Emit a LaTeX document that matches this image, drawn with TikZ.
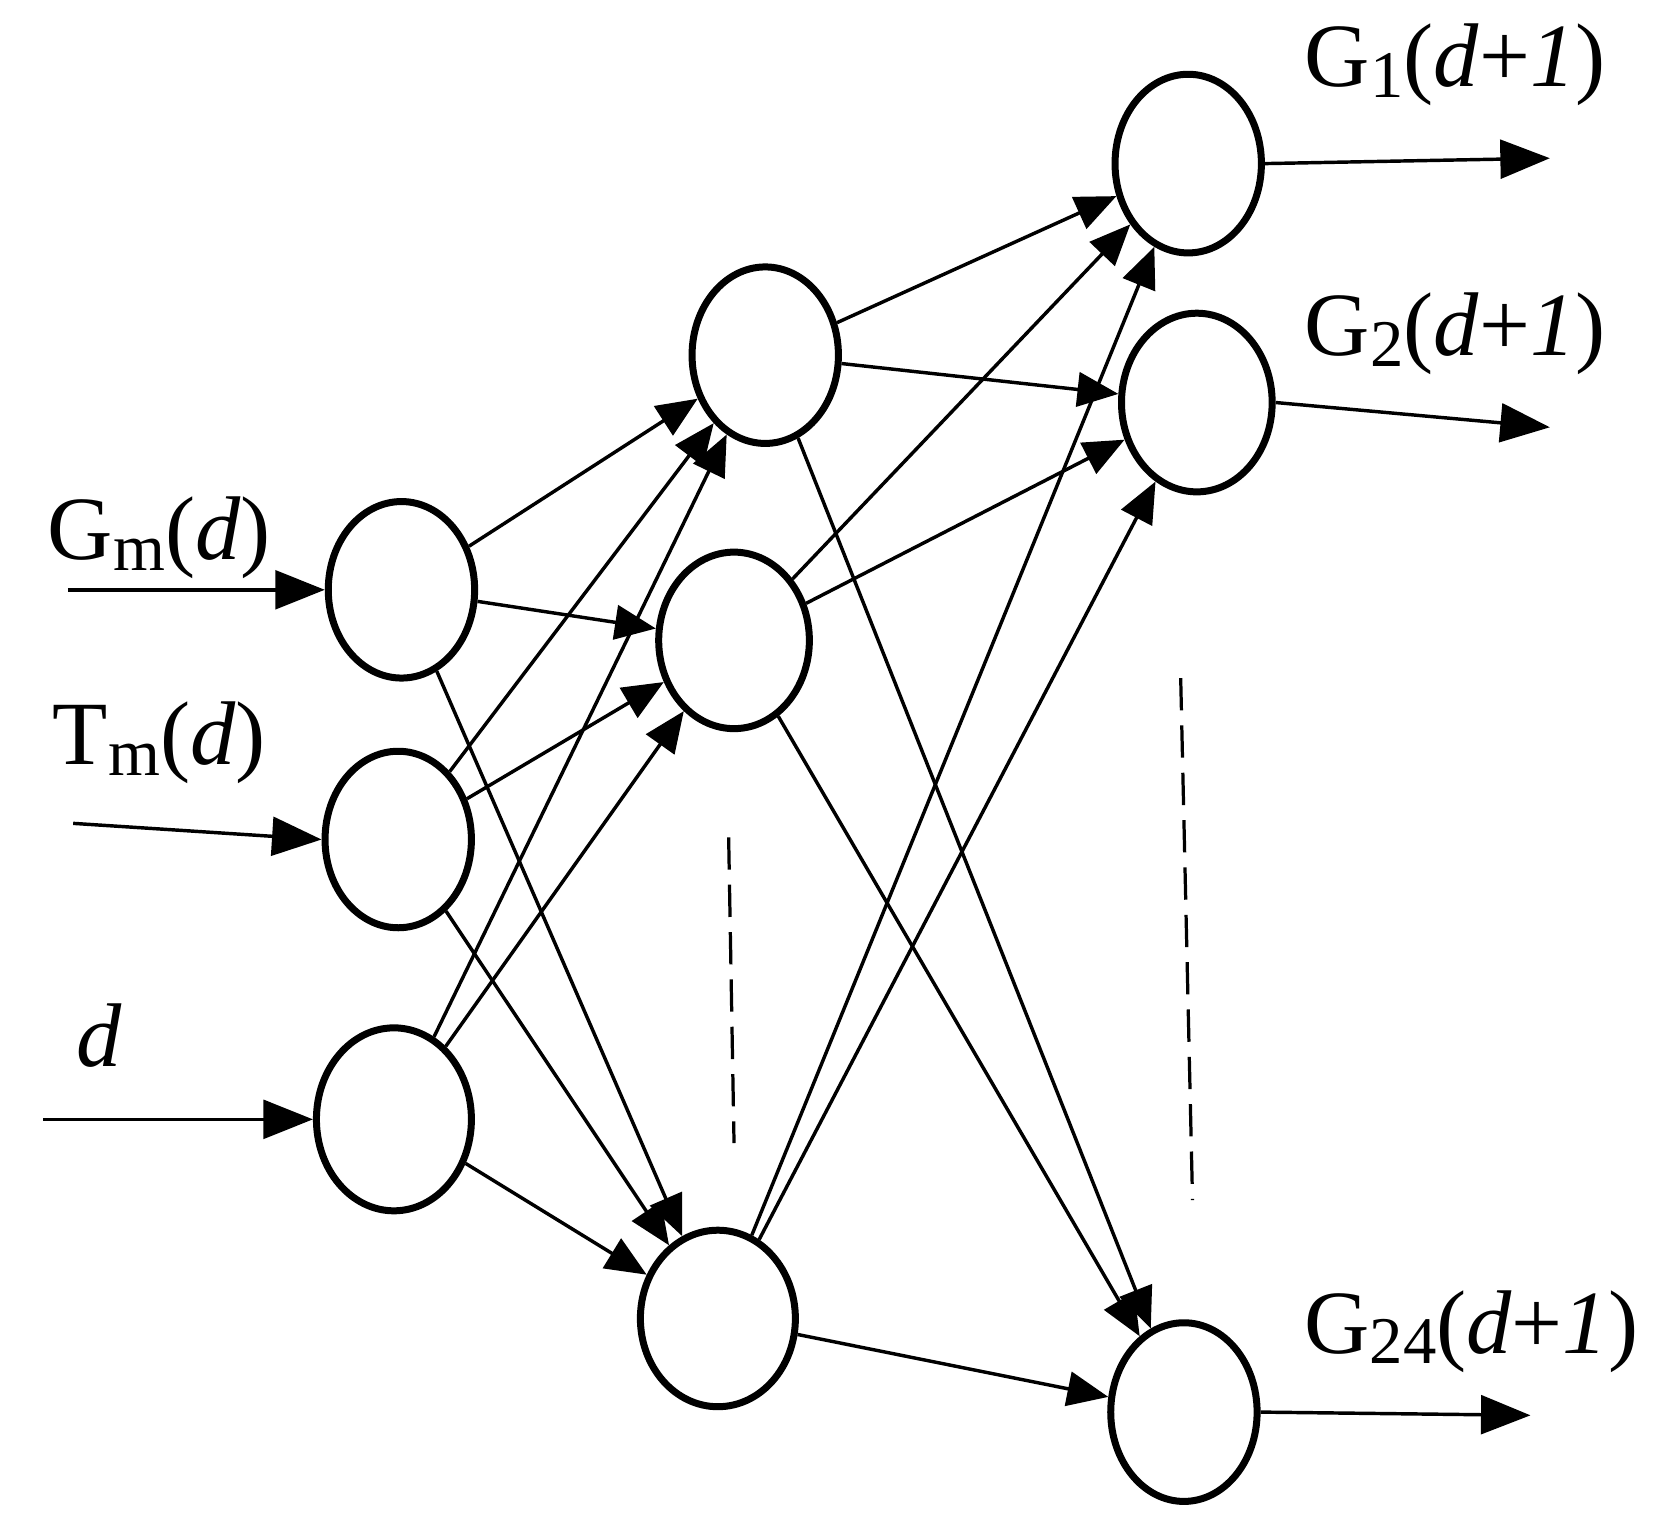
\documentclass[tikz,border=0pt]{standalone}
\usepackage{fontspec}
\setmainfont{Liberation Serif}
\usetikzlibrary{shapes.geometric,arrows.meta}
\newcommand{\lsub}[1]{\raisebox{-0.12em}{\fontsize{62}{70}\selectfont #1}}
\begin{document}
\begin{tikzpicture}[x=1pt,y=-1pt,
  neu/.style={ellipse,draw,line width=6.5pt,minimum width=136pt,minimum height=164pt,inner sep=0pt},
  con/.style={line width=3.2pt,-{Triangle[length=38pt,width=32pt]}},
  io/.style={line width=3.2pt,-{Triangle[length=46pt,width=36pt]}},
  lab/.style={font=\fontsize{84}{90}\selectfont,inner sep=0pt},
  dsh/.style={line width=3pt,dash pattern=on 30pt off 14pt}]
\useasboundingbox (0,0) rectangle (1560,1423);
\node[neu] (i1) at (373,548) {};
\node[neu] (i2) at (370,780) {};
\node[neu,minimum width=144pt,minimum height=170pt] (i3) at (366,1040) {};
\node[neu] (h1) at (711,330) {};
\node[neu,minimum width=140pt] (h2) at (682,595) {};
\node[neu,minimum width=144pt] (h3) at (667,1225) {};
\node[neu,minimum height=166pt] (o1) at (1104,152) {};
\node[neu,minimum width=140pt,minimum height=166pt] (o2) at (1112,374) {};
\node[neu,minimum height=166pt] (o3) at (1100,1312) {};
\foreach \a in {i1,i2,i3}{\foreach \b in {h1,h2,h3}{\draw[con] (\a) -- (\b);}}
\foreach \a in {h1,h2,h3}{\foreach \b in {o1,o2,o3}{\draw[con] (\a) -- (\b);}}
\coordinate (s1) at (63,548);
\coordinate (s2) at (68,765);
\coordinate (s3) at (40,1040);
\coordinate (e1) at (1440,147);
\coordinate (e2) at (1440,397);
\coordinate (e3) at (1422,1315);
\draw[io] (s1) -- (i1.west);
\draw[io] (s2) -- (i2.west);
\draw[io] (s3) -- (i3.west);
\draw[io] (o1.east) -- (e1);
\draw[io] (o2.east) -- (e2);
\draw[io] (o3.east) -- (e3);
\node[lab] (l1) at (148,500) {G\lsub{m}(\textit{d})};
\node[lab] (l2) at (148,690) {T\lsub{m}(\textit{d})};
\node[lab] (l3) at (92,962) {\textit{d}};
\node[lab] (l4) at (1352,60) {G\lsub{1}(\textit{d}+\textit{1})};
\node[lab] (l5) at (1352,310) {G\lsub{2}(\textit{d}+\textit{1})};
\node[lab] (l6) at (1367,1237) {G\lsub{24}(\textit{d}+\textit{1})};
\coordinate (d1) at (677,778); \coordinate (d2) at (682,1062);
\coordinate (d3) at (1097,630); \coordinate (d4) at (1108,1115);
\draw[dsh] (d1) -- (d2);
\draw[dsh] (d3) -- (d4);
\end{tikzpicture}
\end{document}
